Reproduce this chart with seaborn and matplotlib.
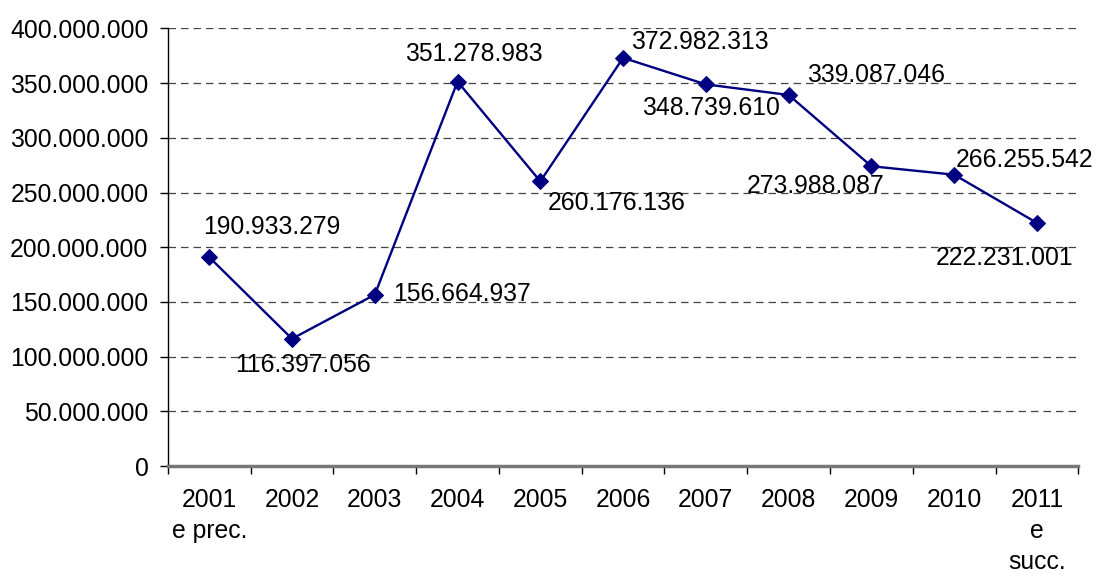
import pandas as pd
import matplotlib.pyplot as plt
import seaborn as sns
import numpy as np
from matplotlib.ticker import FuncFormatter

# dati
anni = ['2001\ne prec.', '2002', '2003', '2004', '2005', '2006', '2007',
        '2008', '2009', '2010', '2011\ne\nsucc.']
valori = [190933279, 116397056, 156664937, 351278983, 260176136, 372982313,
          348739610, 339087046, 273988087, 266255542, 222231001]
etichette = ['190.933.279', '116.397.056', '156.664.937', '351.278.983',
             '260.176.136', '372.982.313', '348.739.610', '339.087.046',
             '273.988.087', '266.255.542', '222.231.001']
# spostamento etichette in pixel
spost = [(63, 30), (11, -26), (87, 1), (16, 28), (76, -22), (77, 16),
         (5, -24), (87, 20), (-56, -20), (70, 15), (-32, -35)]

sns.set_style('white')
plt.rcParams['font.family'] = ['Liberation Sans', 'DejaVu Sans']
fs = 17.8

df = pd.DataFrame({'pos': np.arange(len(valori)), 'valore': valori})

fig = plt.figure(figsize=(10.97, 5.77), dpi=100)
ax = fig.add_axes([0.153, 0.192, 0.830, 0.759])

sns.lineplot(data=df, x='pos', y='valore', ax=ax, color='#000080',
             linewidth=1.7, marker='D', markersize=8.5,
             markeredgecolor='#000080')

for i in range(len(valori)):
    ax.annotate(etichette[i], (i, valori[i]), xytext=spost[i],
                textcoords='offset pixels', ha='center', va='center',
                fontsize=fs, color='black')

ax.set_xlim(-0.5, len(valori) - 0.5)
ax.set_ylim(0, 400000000)
ax.set_yticks(np.arange(0, 400000001, 50000000))
ax.yaxis.set_major_formatter(FuncFormatter(lambda v, p: f'{int(v):,}'.replace(',', '.')))
ax.yaxis.grid(True, linestyle=(0, (6, 4)), color='#444444', linewidth=0.9)

ax.set_xticks(np.arange(len(valori)))
ax.set_xticklabels(anni, linespacing=1.36)
ax.set_xticks(np.arange(-0.5, len(valori)), minor=True)
ax.tick_params(axis='x', which='major', length=0, pad=16, labelsize=fs, labelcolor='black')
ax.tick_params(axis='x', which='minor', length=6, width=1, color='black', direction='out')
ax.tick_params(axis='y', length=6, width=1, color='black', direction='out', pad=8,
               labelsize=fs, labelcolor='black')
ax.xaxis.set_tick_params(bottom=True, which='both')
ax.yaxis.set_tick_params(left=True)

ax.set_xlabel('')
ax.set_ylabel('')
for s in ['top', 'right']:
    ax.spines[s].set_visible(False)
ax.spines['left'].set_color('black')
ax.spines['left'].set_linewidth(1)
ax.spines['bottom'].set_color('#777777')
ax.spines['bottom'].set_linewidth(2.5)

for lab in ax.get_xticklabels():
    lab.set_verticalalignment('top')

fig.savefig('out.png', dpi=100)
